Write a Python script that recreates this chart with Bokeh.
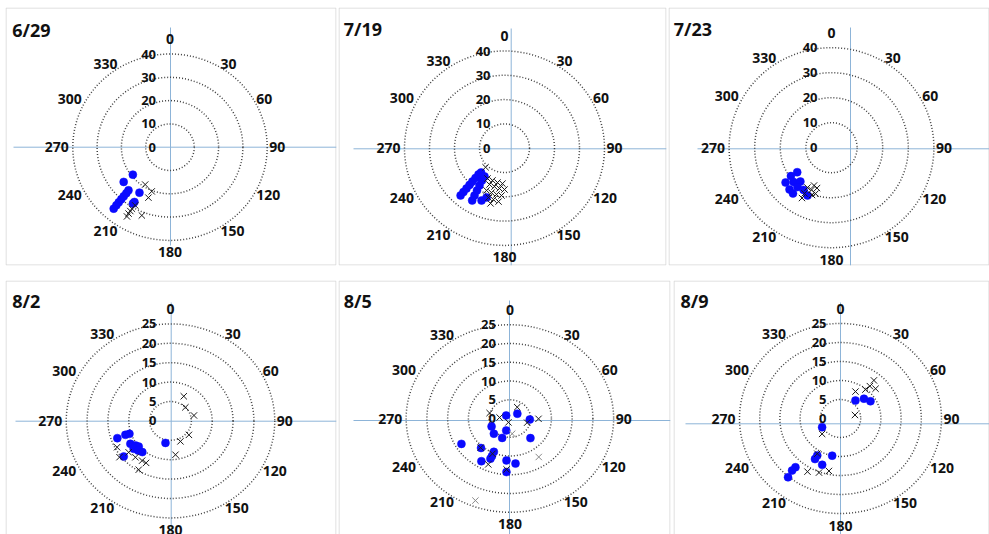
import numpy as np
from bokeh.plotting import figure
from bokeh.layouts import column, row
from bokeh.models import ColumnDataSource, Range1d
from bokeh.core.properties import value, field
from bokeh.embed import file_html
from bokeh.resources import INLINE

# ---------------- data ----------------
titles = ["6/29", "7/19", "7/23", "8/2", "8/5", "8/9"]
angle_ticks = [0, 30, 60, 90, 120, 150, 180, 210, 240, 270, 300, 330]
rings_top = [10, 20, 30, 40]
rings_bottom = [5, 10, 15, 20, 25]

# 6/29  (direction in degrees, radius)
d1_dir = [232.4, 232.0, 212.8, 221.3, 221.5, 221.7, 221.9, 222.1, 222.3, 222.7, 212.2, 211.9]
d1_r = [19.3, 24.2, 23.2, 35.1, 33.3, 31.7, 30.0, 28.4, 26.7, 25.2, 28.6, 27.7]
x1_dir = [212.5, 201.6, 202.3, 201.6, 210.8, 210.9, 210.8, 210.7, 209.8]
x1_r = [19.0, 20.4, 23.4, 31.5, 34.6, 33.2, 31.9, 30.7, 28.8]
# 7/19
d2_dir = [222.1, 222.3, 222.5, 222.8, 223.1, 223.4, 223.9, 223.2, 211.0, 211.6, 212.3,
          213.1, 214.1, 214.5, 203.1, 199.5]
d2_r = [26.2, 24.4, 22.5, 20.6, 18.8, 16.9, 15.0, 13.7, 25.1, 22.9, 20.6, 18.3, 16.1,
        14.1, 23.4, 21.5]
x2_dir = [208.6, 199.9, 191.2, 183.2, 201.9, 194.2, 186.9, 180.0, 202.5, 195.9, 189.5,
          183.5, 197.5, 191.8, 186.2, 193.8, 224.0]
x2_r = [14.2, 14.1, 14.4, 14.6, 16.1, 16.3, 16.7, 17.0, 18.8, 19.0, 19.3, 19.5, 21.3,
        21.6, 22.1, 23.4, 10.9]
# 7/23
d3_dir = [233.8, 234.4, 232.2, 227.2, 221.9, 224.5, 220.2, 219.4, 212.9, 206.1]
d3_r = [16.6, 19.5, 22.7, 20.2, 18.2, 23.4, 20.6, 23.7, 20.1, 21.3]
x3_dir = [209.8, 209.9, 210.5, 204.8, 204.3, 199.3, 198.8, 201.9]
x3_r = [23.2, 21.1, 18.5, 18.6, 16.6, 17.1, 19.4, 20.4]
# 8/2
d4_dir = [250.8, 251.6, 251.3, 238.4, 232.9, 229.0, 230.8, 225.4, 220.1, 230.7, 192.0]
d4_r = [13.5, 11.4, 10.4, 11.3, 10.5, 10.1, 11.4, 10.9, 10.5, 14.5, 5.8]
x4_dir = [26.6, 45.6, 76.0, 129.2, 155.7, 172.2, 242.1, 232.6, 231.1, 221.9, 213.6, 208.4, 211.2]
x4_r = [7.1, 5.0, 5.8, 5.7, 5.8, 8.8, 14.5, 15.4, 12.9, 12.6, 12.3, 12.3, 14.7]
# 8/5
d5_dir = [312.0, 54.6, 93.2, 244.3, 223.6, 195.5, 199.8, 136.6, 239.9, 221.5, 203.5,
          203.3, 211.1, 203.6, 184.2, 173.6, 183.3]
d5_r = [1.2, 2.2, 4.8, 4.9, 5.6, 3.3, 5.5, 7.2, 13.5, 10.5, 9.7, 10.9, 13.3, 11.7, 11.2,
        12.1, 14.3]
x5_dir = [286.6, 276.1, 198.9, 30.3, 105.0, 90.7, 222.2, 203.1, 204.0, 183.4]
x5_r = [5.1, 2.5, 1.1, 3.5, 4.3, 6.9, 10.5, 13.3, 10.3, 13.6]
g5_dir = [172.3, 145.9, 200.8]
g5_r = [4.1, 12.4, 23.4]
# 8/9
d6_dir = [38.0, 48.1, 58.5, 243.2, 210.6, 210.6, 191.9, 200.4, 221.0, 221.2, 220.0]
d6_r = [6.0, 7.8, 8.7, 5.1, 11.3, 12.4, 10.0, 13.0, 17.0, 18.2, 20.2]
x6_dir = [27.6, 39.0, 40.5, 39.5, 47.9, 75.6, 228.3, 211.8, 210.3, 200.5, 191.7]
x6_r = [8.0, 9.8, 11.2, 13.0, 11.7, 3.7, 6.1, 10.9, 16.2, 15.2, 14.1]

series = [
    (d1_dir, d1_r, x1_dir, x1_r, [], []),
    (d2_dir, d2_r, x2_dir, x2_r, [], []),
    (d3_dir, d3_r, x3_dir, x3_r, [], []),
    (d4_dir, d4_r, x4_dir, x4_r, [], []),
    (d5_dir, d5_r, x5_dir, x5_r, g5_dir, g5_r),
    (d6_dir, d6_r, x6_dir, x6_r, [], []),
]
ring_sets = [rings_top] * 3 + [rings_bottom] * 3

# ---------------- layout (page pixels) ----------------
# frame: left, top, width, height ; margins (left, top, right, bottom) ; centre ;
# px per unit (x, y) ; crosshair (x, y, h_from, h_to, v_from, v_to) ; title ; bottom edge drawn
layout_cfg = [
    dict(frame=(5, 7, 331, 258), m=(5, 7, 2, 15), c=(169.5, 146.7), s=(2.43, 2.33),
         ch=(170, 146.7, 13, 336, 27, 245), title=(11.7, 29.3), bottom=True),
    dict(frame=(338, 7, 328, 258), m=(0, 7, 2, 15), c=(504, 147.7), s=(2.5, 2.43),
         ch=(510.7, 148.3, 353, 666, 28, 265), title=(343.3, 28.3), bottom=True),
    dict(frame=(668, 7, 321, 258), m=(0, 7, 0, 15), c=(831, 147.2), s=(2.56, 2.5),
         ch=(850, 148.3, 697, 989, 27, 265), title=(673.3, 28.3), bottom=True),
    dict(frame=(5, 280, 331, 254), m=(5, 0, 2, 0), c=(170, 420.4), s=(4.17, 3.88),
         ch=(170.7, 420.7, 15, 336, 302, 534), title=(11.7, 300), bottom=False),
    dict(frame=(338, 280, 332, 254), m=(0, 0, 3, 0), c=(509.4, 418), s=(4.15, 3.75),
         ch=(509, 420, 353, 670, 300, 534), title=(343.3, 300), bottom=False),
    dict(frame=(673, 280, 316, 254), m=(0, 0, 0, 0), c=(840, 418), s=(4.04, 3.8),
         ch=(840, 423.3, 685, 989, 302, 534), title=(680, 300), bottom=False),
]

FONT = value("Noto Sans")
RING_COLOR = "#404040"
AXIS_COLOR = "#8db4d8"
BORDER_COLOR = "#d6d6d6"
TEXT_COLOR = "#111111"


def polar_xy(dirs, rs):
    t = np.deg2rad(np.asarray(dirs, dtype=float))
    r = np.asarray(rs, dtype=float)
    return r * np.sin(t), r * np.cos(t)


def make_panel(k):
    cfg = layout_cfg[k]
    fl, ft, fw, fh = cfg["frame"]
    ml, mt, mr, mb = cfg["m"]
    cx, cy = cfg["c"]
    sx, sy = cfg["s"]
    xr = Range1d((fl - cx) / sx, (fl + fw - cx) / sx)
    yr = Range1d((cy - ft - fh) / sy, (cy - ft) / sy)
    p = figure(width=fw + ml + mr, height=fh + mt + mb, x_range=xr, y_range=yr,
               output_backend="svg", toolbar_location=None,
               x_axis_location=None, y_axis_location=None,
               min_border_left=ml, min_border_top=mt,
               min_border_right=mr, min_border_bottom=mb,
               outline_line_color=None,
               background_fill_color="white", border_fill_color="white")
    p.grid.visible = False

    X = lambda px: (px - cx) / sx
    Y = lambda py: (cy - py) / sy

    # panel border (drawn half a pixel inside the frame)
    L, Rr = X(fl + 0.5), X(fl + fw - 0.5)
    T, B = Y(ft + 0.5), Y(ft + fh - 0.5)
    bx0, by0, bx1, by1 = [L, L, Rr], [B, T, T], [L, Rr, Rr], [T, T, B]
    if cfg["bottom"]:
        bx0.append(L); by0.append(B); bx1.append(Rr); by1.append(B)
    else:
        by0[0] = Y(ft + fh + 2)
        by1[2] = Y(ft + fh + 2)
    p.segment(x0=bx0, y0=by0, x1=bx1, y1=by1, line_color=BORDER_COLOR, line_width=1)

    # crosshair
    hx, hy, h0, h1, v0, v1 = cfg["ch"]
    p.segment(x0=[X(h0), X(hx)], y0=[Y(hy), Y(v0)], x1=[X(h1), X(hx)], y1=[Y(hy), Y(v1)],
              line_color=AXIS_COLOR, line_width=1)

    # rings
    rings = ring_sets[k]
    p.ellipse(x=[0] * len(rings), y=[0] * len(rings),
              width=[2 * r for r in rings], height=[2 * r for r in rings],
              fill_color=None, line_color=RING_COLOR, line_width=1.5, line_dash="1 2")

    # radial labels
    rl = [0] + list(rings)
    p.text(x=[0] * len(rl), y=rl, text=[str(v) for v in rl], x_offset=-14,
           text_align="right", text_baseline="middle", text_font=FONT,
           text_font_style="bold", text_font_size="13px", text_color=TEXT_COLOR)

    # angle labels
    R = rings[-1]
    th = np.deg2rad(angle_ticks)
    s, c = np.sin(th), np.cos(th)
    align, xo, yo = [], [], []
    for si, ci in zip(s, c):
        if abs(si) < 1e-6:
            align.append("center")
            xo.append(0)
            yo.append(-15 if ci > 0 else 12)
        else:
            align.append("left" if si > 0 else "right")
            xo.append(2 if si > 0 else -4)
            yo.append(-3 * ci)
    src = ColumnDataSource(dict(x=R * s, y=R * c, t=[str(a) for a in angle_ticks],
                                align=align, xo=xo, yo=yo))
    p.text(x="x", y="y", text="t", source=src, text_align=field("align"),
           x_offset=field("xo"), y_offset=field("yo"), text_baseline="middle",
           text_font=FONT, text_font_style="bold", text_font_size="14px",
           text_color=TEXT_COLOR)

    # data
    dd, dr, xd, xrr, gd, grr = series[k]
    bx, by = polar_xy(dd, dr)
    p.scatter(bx, by, marker="circle", size=8, fill_color="#0a0aff",
              line_color="#0a0aff", line_width=0.5)
    kx, ky = polar_xy(xd, xrr)
    p.scatter(kx, ky, marker="x", size=9, line_color="#1a1a1a", line_width=1)
    if len(gd):
        gx, gy = polar_xy(gd, grr)
        p.scatter(gx, gy, marker="x", size=9, line_color="#8a8a8a", line_width=1)

    # title
    tx, ty = cfg["title"]
    p.text(x=[xr.start], y=[yr.end], text=[titles[k]], x_offset=tx - fl, y_offset=ty - ft,
           text_align="left", text_baseline="middle", text_font=FONT,
           text_font_style="bold", text_font_size="18px", text_color=TEXT_COLOR)
    return p


panels = [make_panel(k) for k in range(6)]
layout = column(row(*panels[:3]), row(*panels[3:]))

open("out.html", "w").write(file_html(layout, INLINE))
